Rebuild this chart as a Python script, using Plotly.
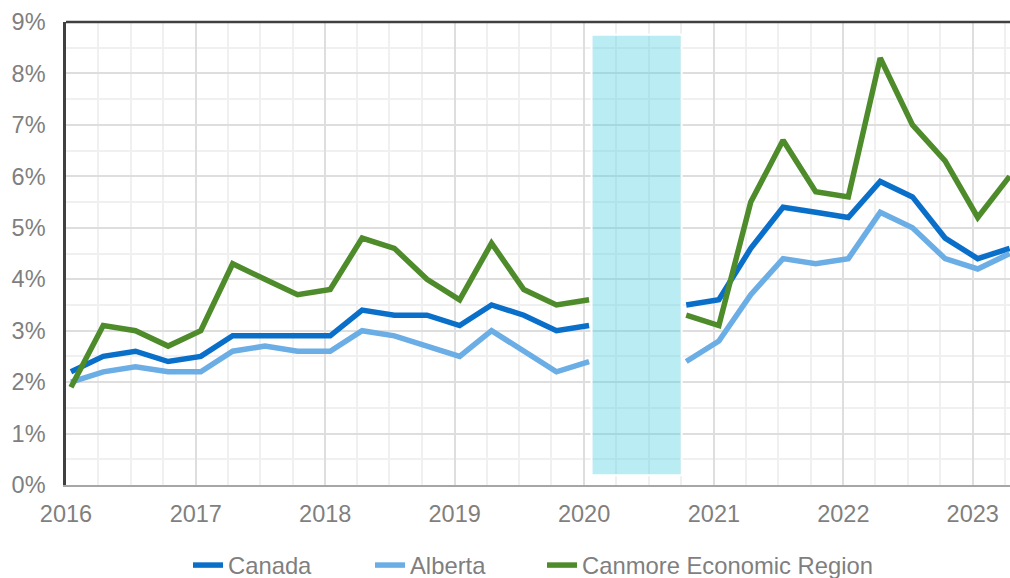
import pandas as pd
import plotly.graph_objects as go

# quarterly observations, 2016Q1 .. 2023Q2 (2020Q2-Q3 not published)
quarters = pd.period_range("2016Q1", "2023Q2", freq="Q")
dates = [(q.start_time + pd.Timedelta(days=14)).strftime("%Y-%m-%d") for q in quarters]

canada = [2.2, 2.5, 2.6, 2.4, 2.5, 2.9, 2.9, 2.9,
          2.9, 3.4, 3.3, 3.3, 3.1, 3.5, 3.3, 3.0,
          3.1, None, None, 3.5, 3.6, 4.6, 5.4, 5.3,
          5.2, 5.9, 5.6, 4.8, 4.4, 4.6]
alberta = [2.0, 2.2, 2.3, 2.2, 2.2, 2.6, 2.7, 2.6,
           2.6, 3.0, 2.9, 2.7, 2.5, 3.0, 2.6, 2.2,
           2.4, None, None, 2.4, 2.8, 3.7, 4.4, 4.3,
           4.4, 5.3, 5.0, 4.4, 4.2, 4.5]
canmore = [1.9, 3.1, 3.0, 2.7, 3.0, 4.3, 4.0, 3.7,
           3.8, 4.8, 4.6, 4.0, 3.6, 4.7, 3.8, 3.5,
           3.6, None, None, 3.3, 3.1, 5.5, 6.7, 5.7,
           5.6, 8.3, 7.0, 6.3, 5.2, 6.0]

series = [
    ("Canada", canada, "#0a6fc9", "legend"),
    ("Alberta", alberta, "#6badE5", "legend2"),
    ("Canmore Economic Region", canmore, "#4e8b2b", "legend3"),
]

FONT = "Arial, Liberation Sans, sans-serif"
GREY = "#7f7f7f"
PLOT_L, PLOT_W = 66, 944

fig = go.Figure()
for name, values, color, leg in series:
    fig.add_trace(go.Scatter(
        x=dates, y=[None if v is None else v / 100 for v in values],
        mode="lines", name=name, connectgaps=False, legend=leg,
        line=dict(color=color, width=5.5),
    ))

# shaded period with data suppressed
fig.add_shape(
    type="rect", xref="x", yref="y",
    x0="2020-01-22", x1="2020-10-02", y0=0.0019, y1=0.0875,
    fillcolor="rgba(78,205,224,0.39)", line=dict(color="white", width=2),
    layer="above",
)
# dark frame line along the top
fig.add_shape(
    type="line", xref="paper", yref="paper", x0=0, x1=1, y0=1, y1=1,
    line=dict(color="#404040", width=2.5),
)


def legend_at(px):
    return dict(
        orientation="h", x=(px - PLOT_L) / PLOT_W, xanchor="left",
        y=-0.173, yanchor="middle", bgcolor="rgba(0,0,0,0)",
        font=dict(size=23.8, color=GREY),
    )


fig.update_layout(
    width=1010, height=578,
    margin=dict(l=66, r=0, t=22, b=93, autoexpand=False),
    paper_bgcolor="white", plot_bgcolor="white",
    font=dict(family=FONT, size=23.5, color=GREY),
    showlegend=True,
    legend=legend_at(188),
    legend2=legend_at(370),
    legend3=legend_at(542),
    xaxis=dict(
        type="date", range=["2016-01-01", "2023-04-16"],
        dtick="M12", tick0="2016-01-01", tickformat="%Y",
        showgrid=True, gridcolor="#dedede", gridwidth=1.5,
        minor=dict(dtick="M3", showgrid=True, gridcolor="#f0f0f0", gridwidth=1.5),
        showline=True, linecolor="#a6a6a6", linewidth=2,
        ticks="", ticklabelstandoff=7, zeroline=False, automargin=False,
    ),
    yaxis=dict(
        range=[0, 0.09], dtick=0.01, tickformat=".0%",
        showgrid=True, gridcolor="#dedede", gridwidth=1.5,
        minor=dict(dtick=0.005, showgrid=True, gridcolor="#f0f0f0", gridwidth=1.5),
        showline=True, linecolor="#404040", linewidth=2.5,
        ticks="", ticklabelstandoff=13, zeroline=False, automargin=False,
    ),
)

fig.write_html(
    "out.html",
    config={"displayModeBar": False},
    post_script="document.body.style.margin='0';",
)
